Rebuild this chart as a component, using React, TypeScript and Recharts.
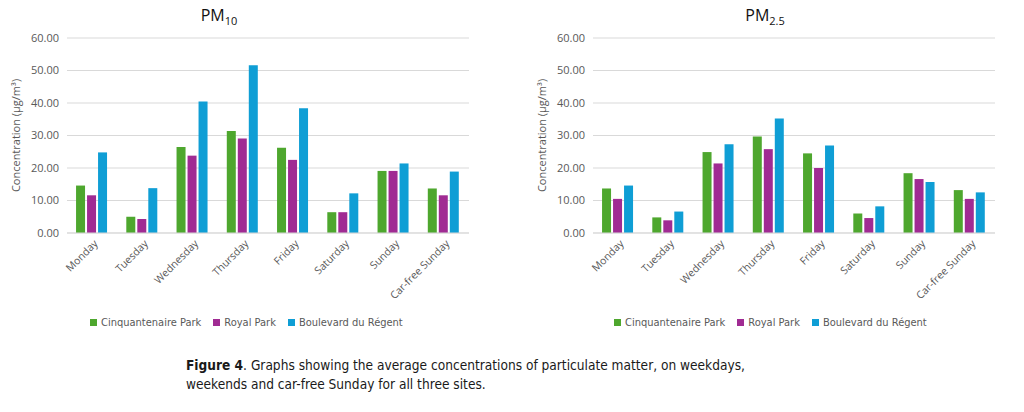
import { Bar, BarChart, CartesianGrid, Legend, XAxis, YAxis } from "recharts";

const days = ["Monday", "Tuesday", "Wednesday", "Thursday", "Friday", "Saturday", "Sunday", "Car-free Sunday"];

const pm10Cinq = [14.6, 5.0, 26.5, 31.4, 26.2, 6.4, 19.1, 13.7];
const pm10Royal = [11.6, 4.3, 23.8, 29.1, 22.5, 6.4, 19.1, 11.6];
const pm10Blvd = [24.8, 13.8, 40.5, 51.6, 38.4, 12.2, 21.4, 18.9];

const pm25Cinq = [13.7, 4.8, 24.9, 29.7, 24.5, 6.0, 18.4, 13.2];
const pm25Royal = [10.5, 3.9, 21.4, 25.8, 20.0, 4.6, 16.6, 10.5];
const pm25Blvd = [14.6, 6.6, 27.3, 35.2, 26.9, 8.2, 15.7, 12.5];

const yTicks = [0, 10, 20, 30, 40, 50, 60];

// keys are ordered so the legend sorts them as in the original
const SITES = [
  { key: "s1", name: "Cinquantenaire Park", color: "#4EA72E" },
  { key: "s2", name: "Royal Park", color: "#A02B93" },
  { key: "s3", name: "Boulevard du Régent", color: "#0F9ED5" },
];

const GREY = "#595959";
const GRID = "#D9D9D9";
const TICK_FONT = "'Open Sans', sans-serif";
const NARROW = "'Liberation Sans Narrow', 'DejaVu Sans Condensed', sans-serif";

const rows = (a: number[], b: number[], c: number[]) =>
  days.map((day, i) => ({ day, s1: a[i], s2: b[i], s3: c[i] }));

const pm10Data = rows(pm10Cinq, pm10Royal, pm10Blvd);
const pm25Data = rows(pm25Cinq, pm25Royal, pm25Blvd);

function PmChart({ data, legendLeft }: { data: ReturnType<typeof rows>; legendLeft: number }) {
  return (
    <BarChart
      width={480}
      height={340}
      data={data}
      margin={{ top: 38, right: 11, left: 10, bottom: 8 }}
      barCategoryGap="18%"
      barGap={2}
    >
      <CartesianGrid vertical={false} stroke={GRID} />
      <XAxis
        dataKey="day"
        interval={0}
        angle={-45}
        textAnchor="end"
        height={79}
        tickLine={false}
        axisLine={{ stroke: GRID }}
        tick={{ fontSize: 10.5, fill: GREY, fontFamily: TICK_FONT }}
        dy={-2}
        dx={1}
      />
      <YAxis
        domain={[0, 60]}
        ticks={yTicks}
        width={57}
        tickLine={false}
        axisLine={false}
        tickFormatter={(v: number) => v.toFixed(2)}
        tick={{ fontSize: 11, fill: GREY, fontFamily: TICK_FONT }}
        label={{
          value: "Concentration (µg/m³)",
          angle: -90,
          position: "insideLeft",
          offset: 6,
          style: { fontSize: 11, fill: GREY, fontFamily: TICK_FONT, textAnchor: "middle" },
        }}
      />
      <Legend
        height={20}
        align="left"
        verticalAlign="bottom"
        iconType="square"
        iconSize={7}
        itemSorter="dataKey"
        wrapperStyle={{ left: legendLeft }}
        formatter={(value: string) => (
          <span style={{ color: GREY, fontSize: 11, fontFamily: NARROW, marginRight: 2 }}>
            {value}
          </span>
        )}
      />
      {SITES.map((s) => (
        <Bar key={s.key} dataKey={s.key} name={s.name} fill={s.color} isAnimationActive={false} />
      ))}
    </BarChart>
  );
}

const titleStyle = {
  position: "absolute" as const,
  top: 4,
  width: 120,
  textAlign: "center" as const,
  fontFamily: TICK_FONT,
  fontSize: 16,
  color: "#111",
};

export default function App() {
  return (
    <div
      style={{
        position: "absolute",
        left: 0,
        top: 0,
        width: 1024,
        height: 412,
        background: "#fff",
        overflow: "hidden",
      }}
    >
      <div style={{ position: "absolute", left: 0, top: 0 }}>
        <PmChart data={pm10Data} legendLeft={90} />
      </div>
      <div style={{ position: "absolute", left: 526, top: 0 }}>
        <PmChart data={pm25Data} legendLeft={88} />
      </div>
      <div style={{ ...titleStyle, left: 219 - 60 }}>
        PM<sub style={{ fontSize: 11 }}>10</sub>
      </div>
      <div style={{ ...titleStyle, left: 765 - 60 }}>
        PM<sub style={{ fontSize: 11 }}>2.5</sub>
      </div>
      <div
        style={{
          position: "absolute",
          left: 186,
          top: 356,
          fontFamily: NARROW,
          fontSize: 13.6,
          lineHeight: "19px",
          color: "#1a1a1a",
        }}
      >
        <b>Figure 4</b>. Graphs showing the average concentrations of particulate matter, on weekdays,
        <br />
        weekends and car-free Sunday for all three sites.
      </div>
    </div>
  );
}
